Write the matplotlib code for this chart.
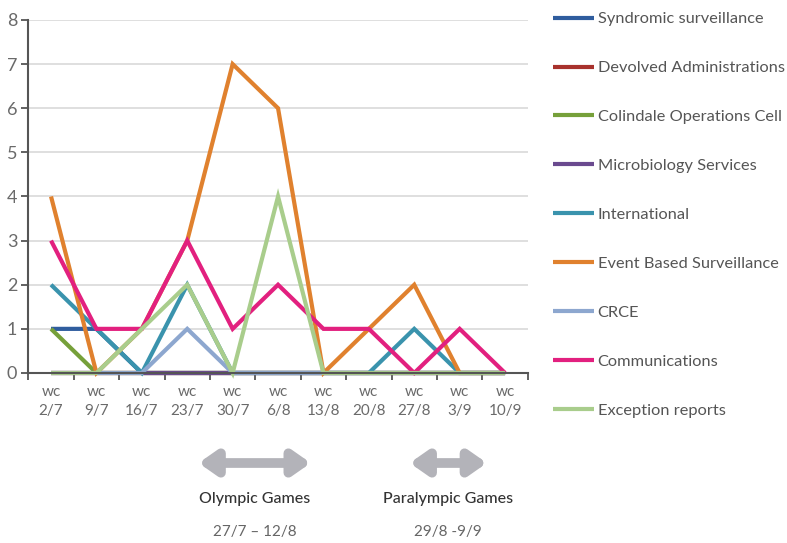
import matplotlib
matplotlib.use("Agg")

import numpy as np
import matplotlib.pyplot as plt

plt.rcParams["font.family"] = ["Lato", "DejaVu Sans"]

weeks = ["2/7", "9/7", "16/7", "23/7", "30/7", "6/8", "13/8", "20/8", "27/8", "3/9", "10/9"]

series_names = [
    "Syndromic surveillance",
    "Devolved Administrations",
    "Colindale Operations Cell",
    "Microbiology Services",
    "International",
    "Event Based Surveillance",
    "CRCE",
    "Communications",
    "Exception reports",
]

syndromic = [1, 1, 0, 0, 0, 0, 0, 0, 0, 0, 0]
devolved = [0, 0, 0, 0, 0, 0, 0, 0, 0, 0, 0]
colindale = [1, 0, 0, 0, 0, 0, 0, 0, 0, 0, 0]
microbiology = [0, 0, 0, 0, 0, 0, 0, 0, 0, 0, 0]
international = [2, 1, 0, 2, 0, 0, 0, 0, 1, 0, 0]
event_based = [4, 0, 1, 3, 7, 6, 0, 1, 2, 0, 0]
crce = [0, 0, 0, 1, 0, 0, 0, 0, 0, 0, 0]
communications = [3, 1, 1, 3, 1, 2, 1, 1, 0, 1, 0]
exception = [0, 0, 1, 2, 0, 4, 0, 0, 0, 0, 0]

series_values = [syndromic, devolved, colindale, microbiology, international,
                 event_based, crce, communications, exception]

colors = ["#2f5d9e", "#a8322d", "#76a03a", "#6a4a8f", "#3a93ad",
          "#e0812e", "#8da7cf", "#e2207f", "#a9cd8c"]

games = ["Olympic Games", "Paralympic Games"]
game_dates = ["27/7 \u2013 12/8", "29/8 -9/9"]
game_span = [(3.25, 5.72), (7.9, 9.6)]

fig = plt.figure(figsize=(7.87, 5.43), dpi=100)
ax = fig.add_axes([0.036, 0.3131, 0.6346, 0.6501])

x = np.arange(len(weeks))
for name, vals, col in zip(series_names, series_values, colors):
    ax.plot(x, vals, color=col, linewidth=3, label=name, solid_capstyle="butt",
            solid_joinstyle="miter", clip_on=False)

ax.set_xlim(-0.5, len(weeks) - 0.5)
ax.set_ylim(0, 8)

ax.set_yticks(range(0, 9))
ax.yaxis.grid(True, color="#d9d9d9", linewidth=1.2)
ax.set_axisbelow(True)

ax.set_xticks(x)
ax.set_xticklabels(["wc\n" + w for w in weeks], color="#6a6a6a", fontsize=11,
                   linespacing=1.4)
ax.set_xticks(np.arange(-0.5, len(weeks)), minor=True)
ax.tick_params(axis="x", which="major", length=0, pad=9)
ax.tick_params(axis="x", which="minor", length=5, width=1.3, color="#555555", direction="out")
ax.tick_params(axis="y", length=5, width=1.3, color="#555555", labelcolor="#6a6a6a",
               labelsize=13, pad=3)

for s in ["top", "right"]:
    ax.spines[s].set_visible(False)
ax.spines["left"].set_color("#555555")
ax.spines["left"].set_linewidth(1.5)
ax.spines["bottom"].set_color("#555555")
ax.spines["bottom"].set_linewidth(1.5)

fig.legend(loc="upper left", bbox_to_anchor=(0.703, 0.978), frameon=False,
           handlelength=2.5, handletextpad=0.2, labelspacing=2.1,
           fontsize=11.8, labelcolor="#555555", borderpad=0, borderaxespad=0)

for (x0, x1), name, dates in zip(game_span, games, game_dates):
    ax.annotate("", xy=(x1, -0.255), xytext=(x0, -0.255),
                xycoords=("data", "axes fraction"), textcoords=("data", "axes fraction"),
                arrowprops=dict(arrowstyle="<|-|>,head_length=0.5,head_width=0.35",
                                mutation_scale=20, lw=7, color="#b3b3b9",
                                shrinkA=0, shrinkB=0))
    mid = (x0 + x1) / 2
    ax.text(mid, -0.357, name, transform=ax.get_xaxis_transform(), ha="center",
            va="center", fontsize=11.5, color="#333333", fontweight="medium")
    ax.text(mid, -0.45, dates, transform=ax.get_xaxis_transform(), ha="center",
            va="center", fontsize=11, color="#666666")

fig.savefig("out.png", dpi=100)
